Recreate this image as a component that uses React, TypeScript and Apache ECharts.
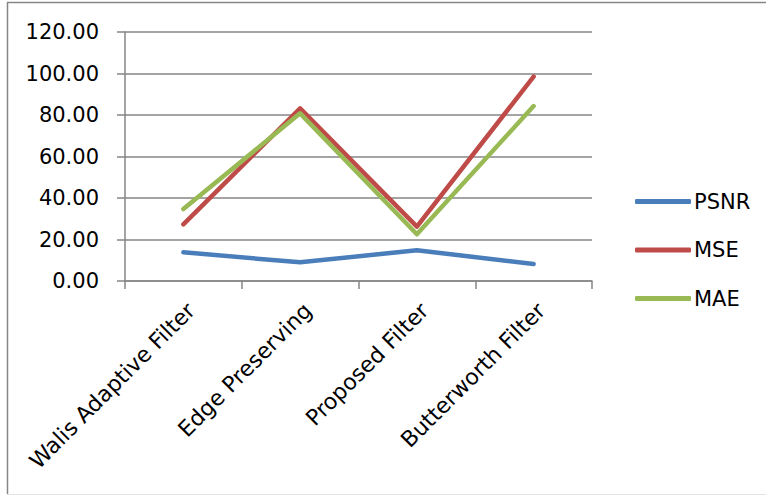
import React, { useEffect, useRef } from "react";
import * as echarts from "echarts";

const categories = [
  "Walis Adaptive Filter",
  "Edge Preserving",
  "Proposed Filter",
  "Butterworth Filter",
];
const psnr = [13.8, 9.0, 14.8, 8.2];
const mse = [27.3, 83.2, 26.2, 98.5];
const mae = [34.7, 80.8, 22.5, 84.3];

const FONT = "DejaVu Sans";
const AXIS_GRAY = "#868686";

export default function App() {
  const ref = useRef<HTMLDivElement>(null);

  useEffect(() => {
    if (!ref.current) return;
    const chart = echarts.init(ref.current, undefined, { renderer: "svg" });

    const line = (name: string, data: number[], color: string) => ({
      name,
      type: "line",
      data,
      symbol: "none",
      showSymbol: false,
      color,
      lineStyle: { color, width: 4.5, cap: "round", join: "round" },
    });

    chart.setOption({
      animation: false,
      backgroundColor: "#ffffff",
      textStyle: { fontFamily: FONT },
      grid: { left: 125, right: 174, top: 32, bottom: 215, containLabel: false },
      legend: {
        orient: "vertical",
        left: 630,
        top: 186,
        icon: "roundRect",
        itemWidth: 56,
        itemHeight: 5,
        itemGap: 27.5,
        textStyle: { fontFamily: FONT, fontSize: 21, color: "#000", padding: [0, 0, 0, -2] },
        data: ["PSNR", "MSE", "MAE"],
      },
      xAxis: {
        type: "category",
        data: categories,
        boundaryGap: true,
        axisLine: { lineStyle: { color: AXIS_GRAY, width: 1.5 } },
        axisTick: { show: true, length: 8, alignWithLabel: false, lineStyle: { color: AXIS_GRAY, width: 1.5 } },
        axisLabel: {
          interval: 0,
          rotate: 45,
          margin: 18,
          align: "right",
          verticalAlign: "top",
          fontFamily: FONT,
          fontSize: 22,
          color: "#000",
        },
        splitLine: { show: false },
      },
      yAxis: {
        type: "value",
        min: 0,
        max: 120,
        interval: 20,
        axisLine: { show: true, lineStyle: { color: AXIS_GRAY, width: 1.5 } },
        axisTick: { show: true, length: 8, lineStyle: { color: AXIS_GRAY, width: 1.5 } },
        axisLabel: {
          margin: 26,
          fontFamily: FONT,
          fontSize: 21,
          color: "#000",
          formatter: (v: number) => v.toFixed(2),
        },
        splitLine: { show: true, lineStyle: { color: AXIS_GRAY, width: 1.5 } },
      },
      graphic: [
        { type: "line", shape: { x1: 7, y1: 2.5, x2: 766, y2: 2.5 }, style: { stroke: AXIS_GRAY, lineWidth: 1.5 } },
        { type: "line", shape: { x1: 7.5, y1: 2, x2: 7.5, y2: 494 }, style: { stroke: AXIS_GRAY, lineWidth: 1.5 } },
        { type: "line", shape: { x1: 7, y1: 494.5, x2: 766, y2: 494.5 }, style: { stroke: "#e4e4e4", lineWidth: 1 } },
      ],
      series: [
        line("PSNR", psnr, "#4a7ebb"),
        line("MSE", mse, "#be4b48"),
        line("MAE", mae, "#98b954"),
      ],
    });

    return () => chart.dispose();
  }, []);

  return (
    <div
      ref={ref}
      style={{ position: "fixed", left: 0, top: 0, width: 766, height: 496, background: "#fff" }}
    />
  );
}
